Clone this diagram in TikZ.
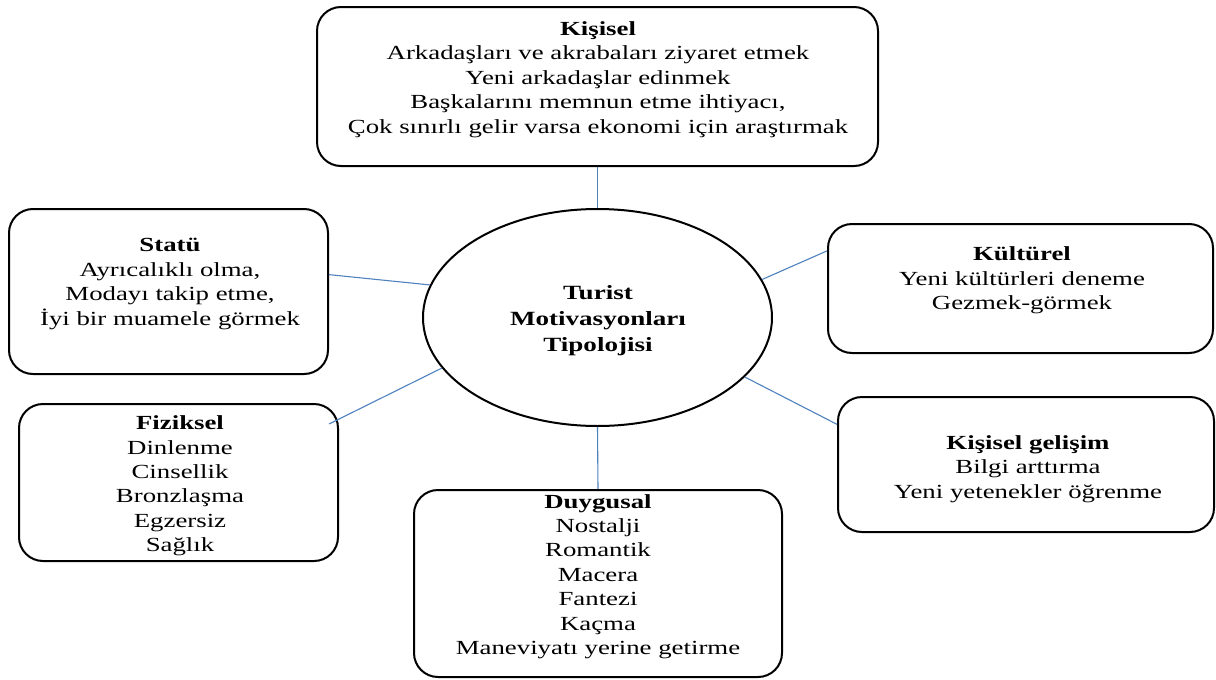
\documentclass[tikz,border=0pt]{standalone}
\usepackage{fontspec}
\setmainfont{Liberation Serif}[FakeStretch=1.34]
\usetikzlibrary{shapes.geometric,calc}
\definecolor{linkblue}{RGB}{79,129,189}
\tikzset{
  card/.style={draw=black, line width=2pt, rounded corners=24pt, inner sep=0pt},
  hub/.style={ellipse, draw=black, line width=2pt, inner sep=0pt,
              minimum width=349pt, minimum height=217pt},
  label/.style={align=center, inner sep=0pt,
                font=\fontsize{20}{24.4}\selectfont},
  hublabel/.style={align=center, inner sep=0pt,
                font=\fontsize{20.2}{26}\selectfont\bfseries},
  link/.style={draw=linkblue, line width=1.1pt}
}
\begin{document}
\begin{tikzpicture}[x=1pt, y=-1pt]
\useasboundingbox (0,0) rectangle (1216,680);

% outer cards
\node[card, minimum width=561pt, minimum height=159pt] (kis) at (597.5,86.5) {};
\node[card, minimum width=319pt, minimum height=165pt] (stat) at (168.5,291.5) {};
\node[card, minimum width=319pt, minimum height=157pt] (fiz) at (178.5,482.5) {};
\node[card, minimum width=368pt, minimum height=187pt] (duy) at (598,583.5) {};
\node[card, minimum width=385pt, minimum height=129pt] (kul) at (1020.5,288.5) {};
\node[card, minimum width=376pt, minimum height=135pt] (kg) at (1026,464.5) {};

% central ellipse
\node[hub] (ell) at (597.5,317.5) {};

% card texts
\node[label] (kist) at (598,79.5) {\textbf{Kişisel}\\
  Arkadaşları ve akrabaları ziyaret etmek\\
  Yeni arkadaşlar edinmek\\
  Başkalarını memnun etme ihtiyacı,\\
  Çok sınırlı gelir varsa ekonomi için araştırmak};
\node[label] (statt) at (170,284) {\textbf{Statü}\\
  Ayrıcalıklı olma,\\
  Modayı takip etme,\\
  İyi bir muamele görmek};
\node[label] (fizt) at (180,486) {\textbf{Fiziksel}\\
  Dinlenme\\ Cinsellik\\ Bronzlaşma\\ Egzersiz\\ Sağlık};
\node[label] (duyt) at (598,576.5) {\textbf{Duygusal}\\
  Nostalji\\ Romantik\\ Macera\\ Fantezi\\ Kaçma\\
  Maneviyatı yerine getirme};
\node[label] (kult) at (1022,280.5) {\textbf{Kültürel}\\
  Yeni kültürleri deneme\\
  Gezmek-görmek};
\node[label] (kgt) at (1028,469) {\textbf{Kişisel gelişim}\\
  Bilgi arttırma\\
  Yeni yetenekler öğrenme};
\node[hublabel] (ellt) at (598,321) {Turist\\ Motivasyonları\\ Tipolojisi};

% connectors
\draw[link] (kis.south) -- (ell.north);
\draw[link] (stat.6.3) -- (ell.169.8);
\draw[link] ($(fiz.north east)+(-10,21)$) -- (ell.198.1);
\draw[link] (ell.south) -- (duy.north);
\draw[link] (ell.13.8) -- (kul.169.3);
\draw[link] (ell.338) -- (kg.168.1);
\end{tikzpicture}
\end{document}
